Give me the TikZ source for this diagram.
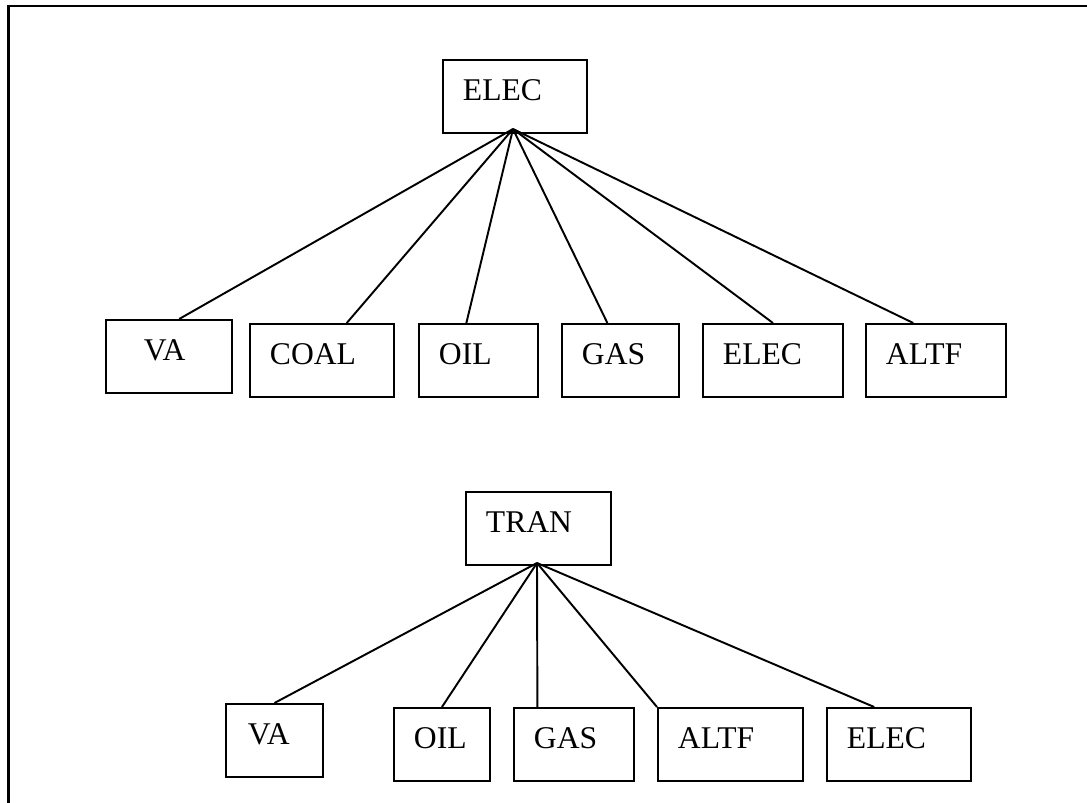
\documentclass[tikz,border=0pt]{standalone}
\usepackage{fontspec}
\setmainfont{Liberation Serif}
\usetikzlibrary{calc}

\tikzset{
    box/.style={draw, line width=1.1pt, anchor=north west, inner xsep=0.4cm, inner ysep=0pt,
        align=left, text height=0.82cm, text depth=0.64cm, font=\fontsize{18}{22}\selectfont},
    link/.style={line width=1.1pt}
}

\begin{document}
\begin{tikzpicture}[x=0.02cm, y=-0.02cm]
    \useasboundingbox (0,0) rectangle (1087,803);
    \draw[line width=1.4pt] (1087,6) -- (8.5,6) -- (8.5,803);

    % electricity tree
    \node[box, text width=2.08cm] (e0) at (442,59) {ELEC};
    \coordinate (ehub) at (513,129);

    \node[box, text width=1.0cm, inner xsep=0.76cm] (va1) at (105,319) {VA};
    \node[box, text width=2.08cm] (coal1) at (249,323) {COAL};
    \node[box, text width=1.58cm] (oil1) at (418,323) {OIL};
    \node[box, text width=1.54cm] (gas1) at (561,323) {GAS};
    \node[box, text width=2.0cm] (elec1) at (702,323) {ELEC};
    \node[box, text width=2.0cm] (altf1) at (865,323) {ALTF};

    \draw[link] (ehub) -- ($(va1.north west)!0.58!(va1.north east)$);
    \draw[link] (ehub) -- ($(coal1.north west)!0.67!(coal1.north east)$);
    \draw[link] (ehub) -- ($(oil1.north west)!0.40!(oil1.north east)$);
    \draw[link] (ehub) -- ($(gas1.north west)!0.39!(gas1.north east)$);
    \draw[link] (ehub) -- (elec1.north);
    \draw[link] (ehub) -- ($(altf1.north west)!0.34!(altf1.north east)$);

    % transport tree
    \node[box, text width=2.1cm] (t0) at (465,491) {TRAN};
    \coordinate (thub) at (537,563);

    \node[box, text width=1.06cm, inner xsep=0.44cm] (va2) at (225,703) {VA};
    \node[box, text width=1.12cm] (oil2) at (393,707) {OIL};
    \node[box, text width=1.6cm] (gas2) at (513,707) {GAS};
    \node[box, text width=2.1cm] (altf2) at (657,707) {ALTF};
    \node[box, text width=2.08cm] (elec2) at (826,707) {ELEC};

    \draw[link] (thub) -- (va2.north);
    \draw[link] (thub) -- (oil2.north);
    \draw[link] (thub) -- ($(gas2.north west)!0.2!(gas2.north east)$);
    \draw[link] (thub) -- (altf2.north west);
    \draw[link] (thub) -- ($(elec2.north west)!0.33!(elec2.north east)$);
\end{tikzpicture}
\end{document}
